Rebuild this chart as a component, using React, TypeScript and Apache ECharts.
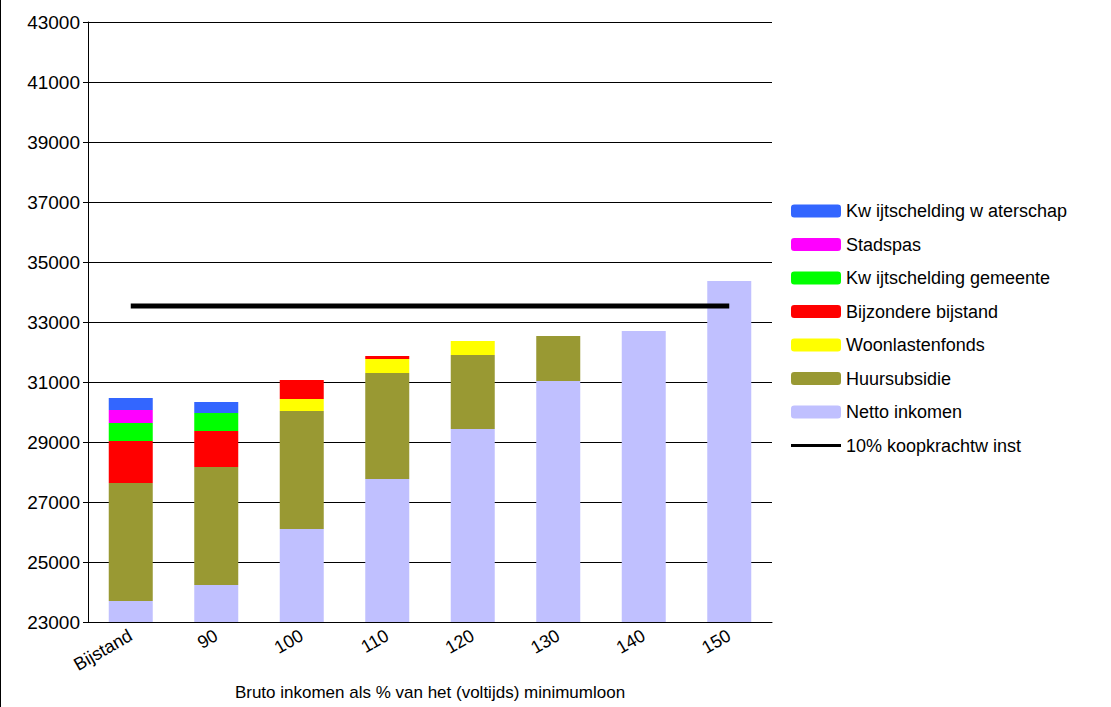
import { useEffect, useRef } from "react";
import * as echarts from "echarts";

const categories = ["Bijstand", "90", "100", "110", "120", "130", "140", "150"];
const netto = [23700, 24230, 26100, 27770, 29430, 31030, 32700, 34370];
const huursubsidie = [3930, 3940, 3930, 3530, 2470, 1500, 0, 0];
const woonlasten = [0, 0, 400, 470, 470, 0, 0, 0];
const bijzondere = [1400, 1200, 640, 100, 0, 0, 0, 0];
const kwijtGemeente = [600, 600, 0, 0, 0, 0, 0, 0];
const stadspas = [440, 0, 0, 0, 0, 0, 0, 0];
const kwijtWaterschap = [400, 360, 0, 0, 0, 0, 0, 0];
const koopkracht = [33530, 33530, 33530, 33530, 33530, 33530, 33530, 33530];

const App = () => {
    const chartRef = useRef<HTMLDivElement>(null);

    useEffect(() => {
        document.body.style.margin = "0";
        if (!chartRef.current) return;
        const chart = echarts.init(chartRef.current, undefined, { renderer: "svg" });
        const font = "Arial, 'Liberation Sans', sans-serif";
        const bar = (name: string, data: number[], color: string) => ({
            name,
            type: "bar",
            stack: "total",
            data,
            barWidth: 44,
            itemStyle: { color },
        });
        chart.setOption({
            animation: false,
            textStyle: { fontFamily: font },
            grid: { left: 87, right: 339, top: 22, bottom: 85 },
            legend: {
                orient: "vertical",
                left: 785,
                top: 197,
                itemWidth: 50,
                itemHeight: 13,
                itemGap: 15.5,
                textStyle: { fontSize: 18, color: "#000", fontFamily: font },
                data: [
                    "Kw ijtschelding w aterschap",
                    "Stadspas",
                    "Kw ijtschelding gemeente",
                    "Bijzondere bijstand",
                    "Woonlastenfonds",
                    "Huursubsidie",
                    "Netto inkomen",
                    { name: "10% koopkrachtw inst", icon: "path://M0,5h50v3h-50z", itemStyle: { color: "#000" } },
                ],
            },
            xAxis: {
                type: "category",
                data: categories,
                axisTick: { show: false },
                axisLine: { lineStyle: { color: "#000" } },
                axisLabel: { rotate: 30, fontSize: 18, color: "#000", margin: 12 },
                name: "Bruto inkomen als % van het (voltijds) minimumloon",
                nameLocation: "middle",
                nameGap: 62,
                nameTextStyle: { fontSize: 17, color: "#000" },
            },
            yAxis: {
                type: "value",
                min: 23000,
                max: 43000,
                interval: 2000,
                axisLine: { show: true, lineStyle: { color: "#000" } },
                axisTick: { show: true, lineStyle: { color: "#000" } },
                axisLabel: { fontSize: 19, color: "#000", formatter: (v: number) => String(v) },
                splitLine: { lineStyle: { color: "#000" } },
            },
            series: [
                bar("Netto inkomen", netto, "#c0c0ff"),
                bar("Huursubsidie", huursubsidie, "#999933"),
                bar("Woonlastenfonds", woonlasten, "#ffff00"),
                bar("Bijzondere bijstand", bijzondere, "#ff0000"),
                bar("Kw ijtschelding gemeente", kwijtGemeente, "#00ff00"),
                bar("Stadspas", stadspas, "#ff00ff"),
                bar("Kw ijtschelding w aterschap", kwijtWaterschap, "#3366ff"),
                {
                    name: "10% koopkrachtw inst",
                    type: "line",
                    data: koopkracht,
                    symbol: "none",
                    itemStyle: { color: "#000" },
                    lineStyle: { color: "#000", width: 5 },
                },
            ],
        });
        return () => chart.dispose();
    }, []);

    return (
        <div
            ref={chartRef}
            style={{ width: 1111, height: 707, borderLeft: "1px solid #000", boxSizing: "border-box" }}
        />
    );
};

export default App;
